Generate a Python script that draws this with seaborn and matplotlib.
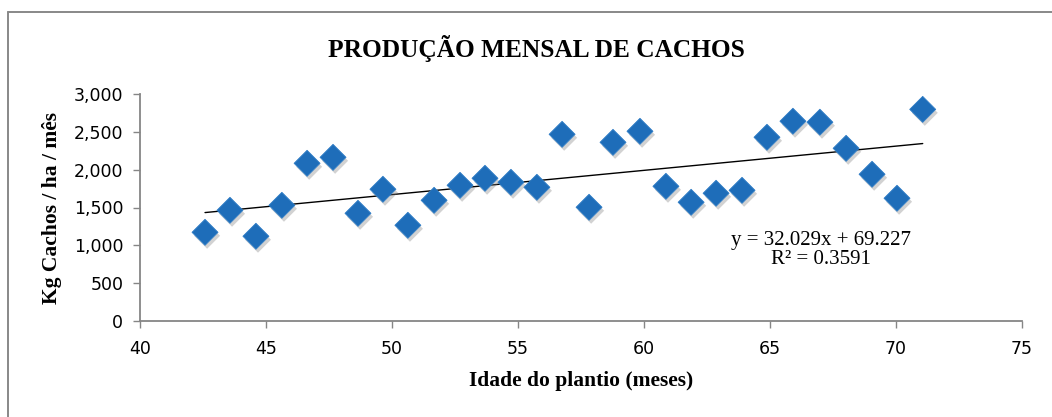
import matplotlib
matplotlib.use("Agg")
import matplotlib.pyplot as plt
import matplotlib.patheffects as pe
from matplotlib.lines import Line2D
import seaborn as sns
import numpy as np
import pandas as pd

# ---- data ----
idade = [42.58, 43.57, 44.60, 45.63, 46.63, 47.66, 48.65, 49.64, 50.63, 51.67,
         52.70, 53.69, 54.72, 55.75, 56.75, 57.82, 58.77, 59.84, 60.87, 61.87,
         62.86, 63.89, 64.88, 65.91, 66.98, 68.02, 69.05, 70.04, 71.06]
producao = [1172, 1463, 1120, 1529, 2084, 2163, 1423, 1741, 1265, 1595,
            1793, 1886, 1833, 1767, 2467, 1503, 2361, 2507, 1780, 1569,
            1688, 1727, 2428, 2640, 2627, 2282, 1939, 1622, 2797]
slope = 32.029
intercept = 69.227
r2 = 0.3591
x_ticks = [40, 45, 50, 55, 60, 65, 70, 75]
y_ticks = [0, 500, 1000, 1500, 2000, 2500, 3000]
title = "PRODUÇÃO MENSAL DE CACHOS"
xlabel = "Idade do plantio (meses)"
ylabel = "Kg Cachos / ha / mês"

df = pd.DataFrame({"idade": idade, "producao": producao})

sns.set_theme(style="white")
plt.rcParams['font.family'] = ['DejaVu Sans']
plt.rcParams['text.color'] = 'black'
plt.rcParams['axes.labelcolor'] = 'black'

W, H = 1052, 417
fig = plt.figure(figsize=(W / 100, H / 100), dpi=100)
fig.patch.set_facecolor("white")
ax = fig.add_axes([140 / W, (H - 321) / H, (1022 - 140) / W, (321 - 94) / H])

sns.scatterplot(data=df, x="idade", y="producao", marker="D", s=175,
                color="#1E6DB9", edgecolor="#2F7DC6", linewidth=0.6,
                ax=ax, zorder=3, legend=False)
coll = ax.collections[0]
coll.set_path_effects([pe.SimplePatchShadow(offset=(1.5, -2.5), shadow_rgbFace="#7f7f7f", alpha=0.35),
                       pe.Normal()])

# trendline from the reported equation
xl = np.array([min(idade), max(idade)])
ax.plot(xl, slope * xl + intercept, color="black", lw=1.0, zorder=2)

ax.set_xlim(40, 75)
ax.set_ylim(0, 3000)
ax.set_xticks(x_ticks)
ax.set_yticks(y_ticks)
ax.set_yticklabels([f"{v:,}" for v in y_ticks])
ax.tick_params(axis="both", which="major", direction="out", length=5, width=1.0,
               color="#868686", labelsize=12.5, labelcolor="black", left=True, bottom=True)
ax.tick_params(axis="y", pad=7)
ax.tick_params(axis="x", pad=9)
for s in ["top", "right"]:
    ax.spines[s].set_visible(False)
for s in ["left", "bottom"]:
    ax.spines[s].set_color("#868686")
    ax.spines[s].set_linewidth(1.3)
ax.grid(False)

ax.set_xlabel(xlabel, family="Liberation Serif", fontweight="bold", fontsize=15.5, va="center")
ax.set_ylabel(ylabel, family="Liberation Serif", fontweight="bold", fontsize=15.5, va="center")
ax.xaxis.set_label_coords((581 - 140) / 882, (321 - 381) / 227)
ax.yaxis.set_label_coords((52 - 140) / 882, 0.5)

fig.text(536 / W, 1 - 49 / H, title, family="Liberation Serif", fontweight="bold",
         fontsize=18.3, ha="center", va="center", color="black")

fig.text(821 / W, 1 - 240 / H, f"y = {slope}x + {intercept}",
         family="Liberation Serif", fontsize=15, ha="center", va="center", color="black")
fig.text(821 / W, 1 - 260 / H, f"R² = {r2}",
         family="Liberation Serif", fontsize=15, ha="center", va="center", color="black")

# outer chart frame (clipped at right/bottom like the reference)
fig.add_artist(Line2D([7.5 / W, 1.0], [1 - 11.5 / H, 1 - 11.5 / H], color="#888888", lw=1.4,
                      transform=fig.transFigure))
fig.add_artist(Line2D([7.5 / W, 7.5 / W], [0.0, 1 - 11.5 / H], color="#888888", lw=1.4,
                      transform=fig.transFigure))

fig.savefig("out.png", dpi=100, facecolor="white")
